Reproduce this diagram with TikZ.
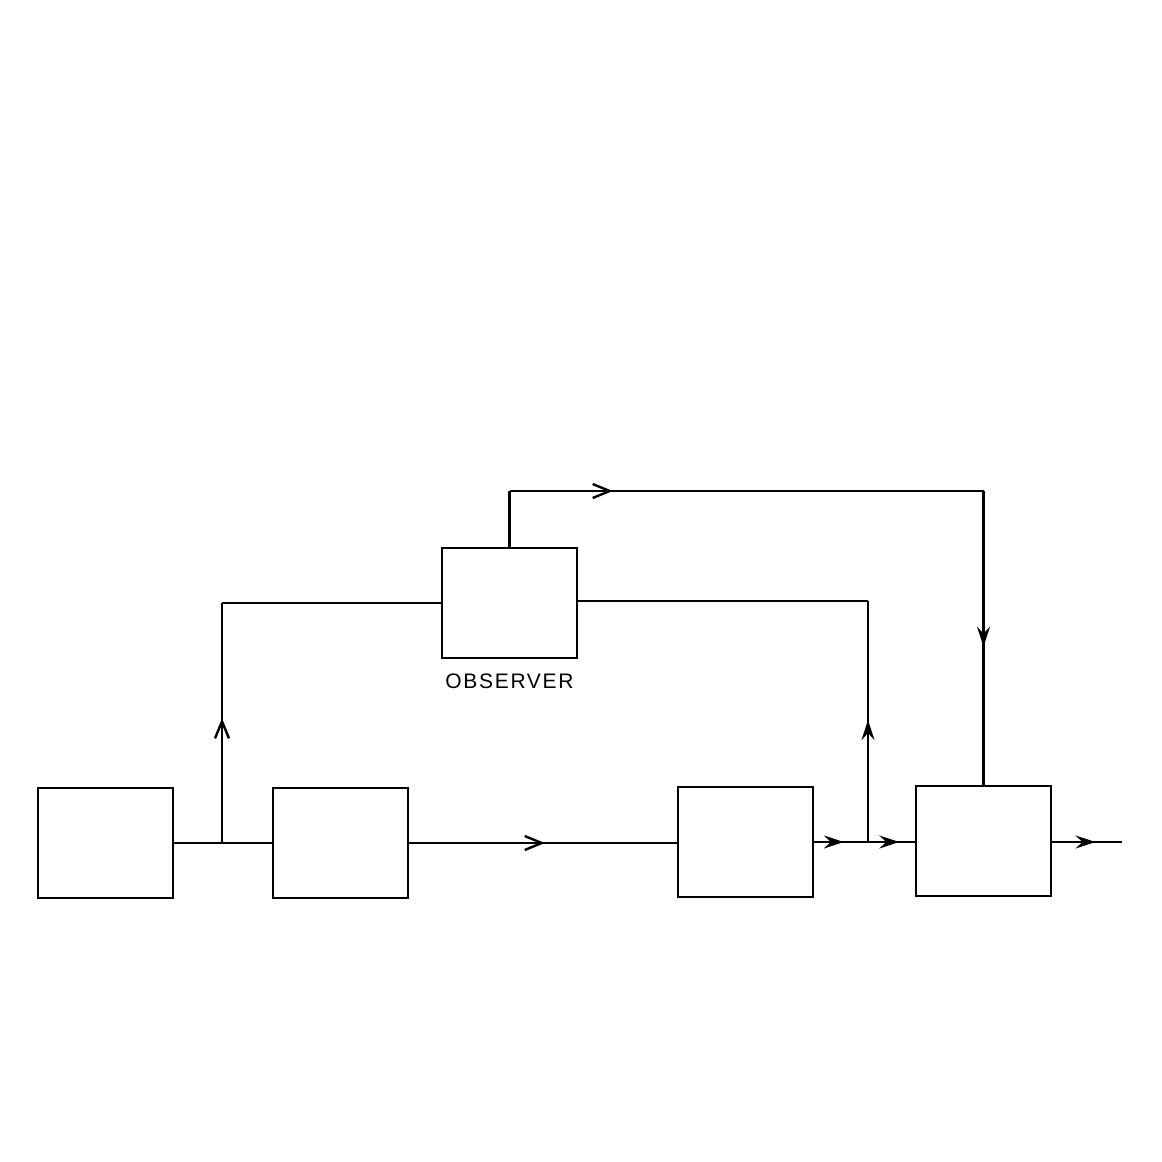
\documentclass[tikz,border=0pt]{standalone}
\usepackage{fontspec}
\setsansfont{Liberation Sans}
\usetikzlibrary{arrows.meta,decorations.markings}
\tikzset{
  blk/.style={draw, line width=2.6pt, minimum width=135pt, minimum height=110pt, inner sep=0pt},
  wire/.style={line width=2.4pt},
  tipA/.style={postaction={decorate}, decoration={markings, mark=at position #1 with {\arrow{Straight Barb[length=17pt,width=14pt,line width=2.4pt]}}}},
  tipB/.style={postaction={decorate}, decoration={markings, mark=at position #1 with {\arrow{Stealth[length=20pt,width=13pt,inset=7pt]}}}},
  lbl/.style={font=\sffamily\fontsize{21}{24}\selectfont\addfontfeatures{LetterSpace=8}, inner sep=0pt}
}
\begin{document}
\begin{tikzpicture}[x=1pt,y=-1pt]
\useasboundingbox (0,0) rectangle (1162,1162);
\node[blk] (b1) at (105.5,843) {};
\node[blk] (b2) at (340.5,843) {};
\node[blk] (b3) at (745.5,842) {};
\node[blk] (b4) at (983.5,841) {};
\node[blk] (obs) at (509.5,603) {};
\node[lbl] (obsl) at (509.5,681) {OBSERVER};
\coordinate (j1) at (222,843);
\coordinate (c1) at (222,603);
\coordinate (j2) at (868,842);
\coordinate (c2) at (868,601);
\coordinate (t0) at (509.5,491);
\coordinate (t1) at (983.5,491);
\coordinate (out) at (1122,842);
% main line
\draw[wire] (b1.east) -- (j1) -- (b2.west);
\draw[wire, tipA=0.507] (b2.east) -- (b3.west |- b2.east);
\draw[wire, tipB=0.55] (b3.east) -- (j2);
\draw[wire, tipB=0.67] (j2) -- (b4.west |- j2);
\draw[wire, tipB=0.62] (b4.east |- out) -- (out);
% observer feed from input
\draw[wire, tipA=0.52] (j1) -- (c1);
\draw[wire] (c1) -- (obs.west);
% observer feed from output
\draw[wire, tipB=0.506] (j2) -- (c2);
\draw[wire] (c2) -- (obs.east |- c2);
% observer output to last block
\draw[wire] (obs.north) -- (t0);
\draw[wire, tipA=0.218] (t0) -- (t1);
\draw[wire, tipB=0.53] (t1) -- (b4.north);
\end{tikzpicture}
\end{document}
